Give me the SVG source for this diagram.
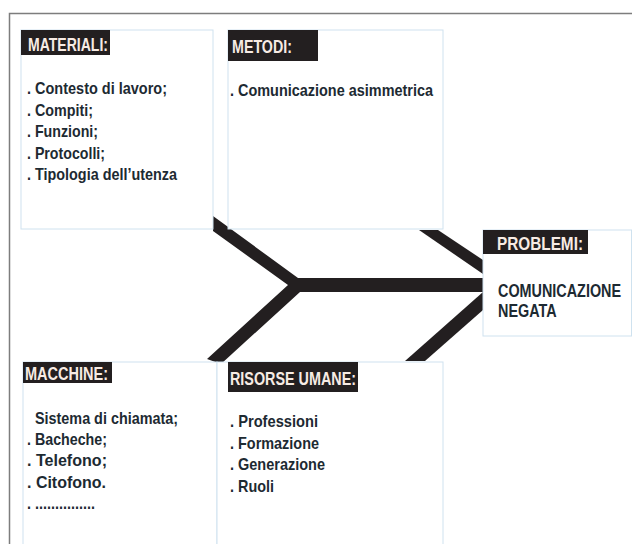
<svg xmlns="http://www.w3.org/2000/svg" width="632" height="544" viewBox="0 0 632 544">
<style>
.frame{fill:none;stroke:#7d7d7d;stroke-width:1.5}
.box{fill:#ffffff;stroke:#cfe2ef;stroke-width:1}
.lab{fill:#231f20}
.lt{font-family:"Liberation Sans",Arial,sans-serif;font-weight:bold;font-size:18.5px;fill:#f7ebe4}
.tx{font-family:"Liberation Sans",Arial,sans-serif;font-weight:bold;font-size:17px;fill:#1d2a32}
.big{font-family:"Liberation Sans",Arial,sans-serif;font-weight:bold;font-size:18px;fill:#1d2a32}
.bone{fill:#231f20}
</style>
<rect width="632" height="544" fill="#ffffff"/>
<path class="frame" d="M9.5,544 V13.5 H632"/>
<g id="connectors">
<polygon class="bone" points="213,216 298,278 483,278 483,292 300,292 221,364 207,359 288,285 213,231"/>
<polygon class="bone" points="419,230 438,230 483,260 483,274"/>
<polygon class="bone" points="483,292 483,310 425,361 405,361"/>
</g>
<g id="materiali">
<rect class="box" x="21" y="30" width="192" height="199"/>
<rect class="lab" x="21" y="30" width="89" height="25"/>
<text class="lt" x="28" y="51" textLength="80" lengthAdjust="spacingAndGlyphs">MATERIALI:</text>
<text class="tx" x="27" y="94" textLength="140" lengthAdjust="spacingAndGlyphs">. Contesto di lavoro;</text>
<text class="tx" x="27" y="116" textLength="66" lengthAdjust="spacingAndGlyphs">. Compiti;</text>
<text class="tx" x="27" y="137" textLength="71" lengthAdjust="spacingAndGlyphs">. Funzioni;</text>
<text class="tx" x="27" y="159" textLength="78" lengthAdjust="spacingAndGlyphs">. Protocolli;</text>
<text class="tx" x="27" y="180" textLength="150" lengthAdjust="spacingAndGlyphs">. Tipologia dell’utenza</text>
</g>
<g id="metodi">
<rect class="box" x="228" y="30" width="215" height="199"/>
<rect class="lab" x="228" y="30" width="90" height="31"/>
<text class="lt" x="232" y="53" textLength="60" lengthAdjust="spacingAndGlyphs">METODI:</text>
<text class="tx" x="230" y="96" textLength="203" lengthAdjust="spacingAndGlyphs">. Comunicazione asimmetrica</text>
</g>
<g id="problemi">
<rect class="box" x="483" y="230" width="148.5" height="106"/>
<rect class="lab" x="483" y="230" width="105" height="24"/>
<text class="lt" x="497" y="250" textLength="86" lengthAdjust="spacingAndGlyphs">PROBLEMI:</text>
<text class="big" transform="translate(498,296.5) scale(0.8,1)">COMUNICAZIONE</text>
<text class="big" transform="translate(498,316.5) scale(0.8,1)">NEGATA</text>
</g>
<g id="macchine">
<rect class="box" x="23" y="362" width="194" height="200"/>
<rect class="lab" x="23" y="362" width="89" height="21"/>
<text class="lt" x="25" y="380" textLength="83" lengthAdjust="spacingAndGlyphs">MACCHINE:</text>
<text class="tx" x="35" y="424" textLength="143" lengthAdjust="spacingAndGlyphs">Sistema di chiamata;</text>
<text class="tx" x="27" y="445" textLength="80" lengthAdjust="spacingAndGlyphs">. Bacheche;</text>
<text class="tx" x="27" y="466" textLength="80" lengthAdjust="spacingAndGlyphs">. Telefono;</text>
<text class="tx" x="27" y="488" textLength="79" lengthAdjust="spacingAndGlyphs">. Citofono.</text>
<text class="tx" x="27" y="509" textLength="68" lengthAdjust="spacingAndGlyphs">. ...............</text>
</g>
<g id="risorse-umane">
<rect class="box" x="217" y="362" width="226" height="200"/>
<rect class="lab" x="228" y="362" width="130" height="30"/>
<text class="lt" x="230" y="385" textLength="126" lengthAdjust="spacingAndGlyphs">RISORSE UMANE:</text>
<text class="tx" x="230" y="427" textLength="88" lengthAdjust="spacingAndGlyphs">. Professioni</text>
<text class="tx" x="230" y="449" textLength="89" lengthAdjust="spacingAndGlyphs">. Formazione</text>
<text class="tx" x="230" y="470" textLength="95" lengthAdjust="spacingAndGlyphs">. Generazione</text>
<text class="tx" x="230" y="492" textLength="44" lengthAdjust="spacingAndGlyphs">. Ruoli</text>
</g>
</svg>
